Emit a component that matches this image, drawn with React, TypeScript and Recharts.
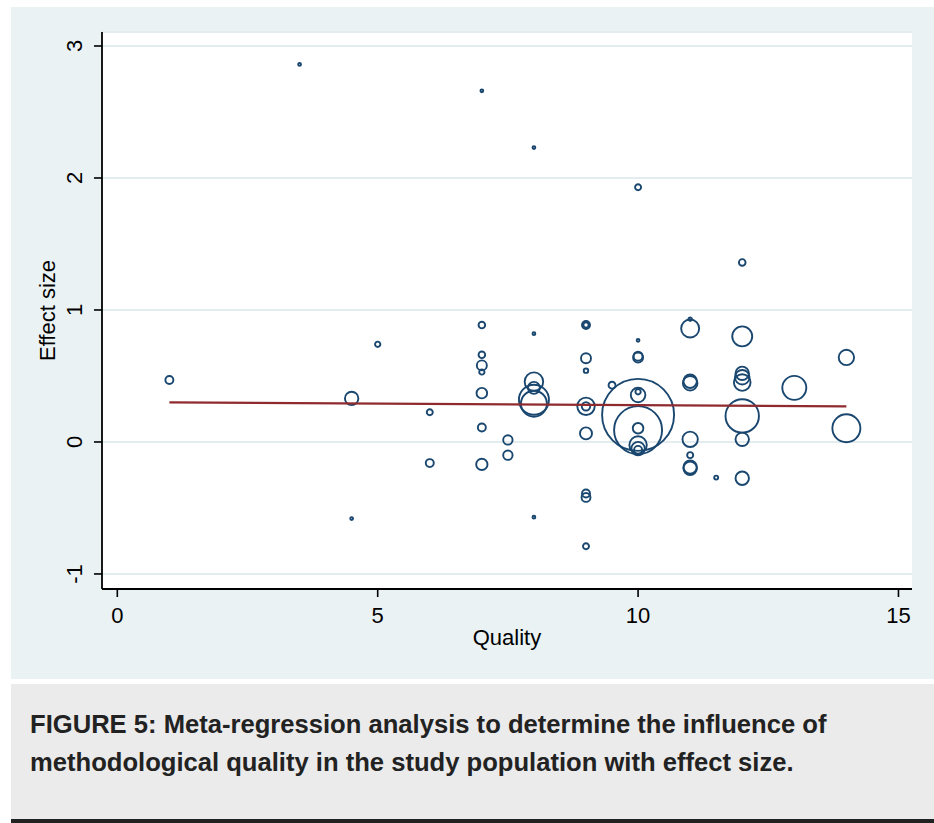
import React from 'react';
import { ScatterChart, Scatter, XAxis, YAxis, ZAxis, CartesianGrid } from 'recharts';

// Study quality score (x), effect size (y) and study weight (bubble area)
const quality = [
  1, 3.5, 4.5, 4.5, 5, 6, 6,
  7, 7, 7, 7, 7, 7, 7, 7,
  7.5, 7.5,
  8, 8, 8, 8, 8, 8, 8,
  9, 9, 9, 9, 9, 9, 9, 9, 9, 9,
  9.5,
  10, 10, 10, 10, 10, 10, 10, 10, 10, 10, 10, 10,
  11, 11, 11, 11, 11, 11, 11, 11,
  11.5,
  12, 12, 12, 12, 12, 12, 12, 12,
  13,
  14, 14,
];
const effectSize = [
  0.47, 2.86, 0.33, -0.58, 0.74, 0.225, -0.16,
  2.66, 0.886, 0.66, 0.58, 0.53, 0.37, 0.11, -0.17,
  0.015, -0.1,
  2.23, 0.82, 0.457, 0.41, 0.32, 0.29, -0.57,
  0.886, 0.886, 0.634, 0.54, 0.27, 0.27, 0.065, -0.39, -0.42, -0.79,
  0.43,
  1.93, 0.77, 0.65, 0.64, 0.38, 0.356, 0.205, 0.09, 0.104, -0.023, -0.05, -0.06,
  0.93, 0.86, 0.46, 0.445, 0.02, -0.1, -0.19, -0.2,
  -0.27,
  1.36, 0.8, 0.52, 0.49, 0.45, 0.197, 0.02, -0.275,
  0.41,
  0.64, 0.104,
];
const weight = [
  16, 2, 45, 2, 7, 9, 16,
  2, 11, 11, 25, 7, 28, 16, 32,
  22, 22,
  2, 2, 86, 36, 225, 169, 2,
  16, 7, 25, 5, 76, 18, 36, 16, 20, 9,
  12,
  9, 2, 20, 25, 7, 53, 1296, 576, 28, 76, 45, 16,
  3, 81, 45, 53, 59, 9, 45, 45,
  4,
  11, 100, 45, 53, 69, 279, 45, 45,
  144,
  59, 196,
];

// Fitted meta-regression line
const fitQuality = [1, 14];
const fitEffect = [0.3, 0.27];

const xTicks = [0, 5, 10, 15];
const yTicks = [-1, 0, 1, 2, 3];

const points = quality.map((q, i) => ({ x: q, y: effectSize[i], w: weight[i] }));
const fit = fitQuality.map((q, i) => ({ x: q, y: fitEffect[i] }));

const FONT = '"Liberation Sans", Arial, Helvetica, sans-serif';
const NAVY = '#1a476f';
const MAROON = '#8f2a2e';

const YTick = (props: any) => {
  const { x, y, payload } = props;
  return (
    <text
      x={x}
      y={y}
      transform={`rotate(-90, ${x}, ${y})`}
      textAnchor="middle"
      fontSize={22}
      fontFamily={FONT}
      fill="#000"
    >
      {payload.value}
    </text>
  );
};

const XTick = (props: any) => {
  const { x, y, payload } = props;
  return (
    <text x={x} y={y} textAnchor="middle" fontSize={22} fontFamily={FONT} fill="#000">
      {payload.value}
    </text>
  );
};

const XTitle = (props: any) => {
  const vb = props.viewBox || {};
  return (
    <text x={vb.x + vb.width / 2} y={vb.y + 56} textAnchor="middle" fontSize={22} fontFamily={FONT} fill="#000">
      Quality
    </text>
  );
};

const YTitle = (props: any) => {
  const vb = props.viewBox || {};
  const cx = 55;
  const cy = vb.y + vb.height / 2;
  return (
    <text x={cx} y={cy} transform={`rotate(-90, ${cx}, ${cy})`} textAnchor="middle" fontSize={22} fontFamily={FONT} fill="#000">
      Effect size
    </text>
  );
};

const NoShape = () => <g />;

export default function App() {
  return (
    <div style={{ position: 'absolute', left: 0, top: 0, width: 934, height: 823, background: '#fff', fontFamily: FONT }}>
      <div style={{ position: 'absolute', left: 11, top: 7, width: 923, height: 672, background: '#eaf2f3' }} />
      <div style={{ position: 'absolute', left: 0, top: 0 }}>
        <ScatterChart width={934} height={680} margin={{ top: 32, right: 22, bottom: 0, left: 0 }}>
          <CartesianGrid vertical={false} stroke="#e3ecef" strokeWidth={2} fill="#ffffff" />
          <XAxis
            type="number"
            dataKey="x"
            domain={[-0.294, 15.26]}
            ticks={xTicks}
            allowDataOverflow
            height={91}
            tickSize={8}
            tickMargin={26}
            tick={<XTick />}
            axisLine={{ stroke: '#000', strokeWidth: 1.8 }}
            tickLine={{ stroke: '#000', strokeWidth: 1.6 }}
            label={<XTitle />}
          />
          <YAxis
            type="number"
            dataKey="y"
            domain={[-1.114, 3.106]}
            ticks={yTicks}
            allowDataOverflow
            width={102}
            tickSize={8}
            tickMargin={12}
            tick={<YTick />}
            axisLine={{ stroke: '#000', strokeWidth: 1.8 }}
            tickLine={{ stroke: '#000', strokeWidth: 1.6 }}
            label={<YTitle />}
          />
          <ZAxis type="number" dataKey="w" domain={[0, 1296]} range={[0, 1296 * Math.PI]} />
          <Scatter data={points} fill="none" stroke={NAVY} strokeWidth={1.9} isAnimationActive={false} />
          <Scatter
            data={fit}
            line={{ stroke: MAROON, strokeWidth: 2.2 }}
            shape={<NoShape />}
            isAnimationActive={false}
          />
        </ScatterChart>
      </div>
      <div style={{ position: 'absolute', left: 11, top: 684, width: 923, height: 135, background: '#ebebeb' }} />
      <div style={{ position: 'absolute', left: 11, top: 819, width: 923, height: 4, background: '#222' }} />
      <svg style={{ position: 'absolute', left: 0, top: 0 }} width={934} height={823} pointerEvents="none">
        <text x={30} y={733} fontSize={25.6} fontWeight="bold" fontFamily={FONT} fill="#222">
          FIGURE 5: Meta-regression analysis to determine the influence of
        </text>
        <text x={30} y={771} fontSize={25.6} fontWeight="bold" fontFamily={FONT} fill="#222">
          methodological quality in the study population with effect size.
        </text>
      </svg>
    </div>
  );
}
